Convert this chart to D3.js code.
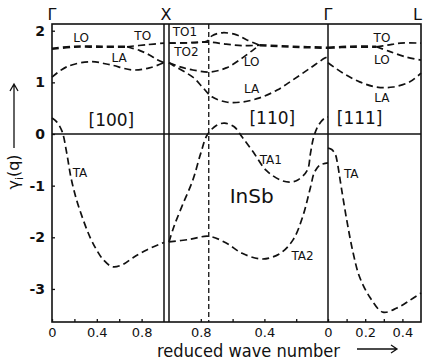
<!DOCTYPE html>
<html>
<head>
<meta charset="utf-8">
<script src="https://cdn.jsdelivr.net/npm/d3@7"></script>
<style>
  body { margin: 0; background: #fff; }
  text { font-family: "DejaVu Sans", sans-serif; fill: #111; }
</style>
</head>
<body>
<script>
// Grüneisen parameters gamma_i(q) of InSb
// [q, gamma] pairs, q = reduced wave number in each direction

// [100]  Gamma -> X   (LO and TO coincide up to q ~ 0.67)
const shared100 = [[0, 1.65], [0.2, 1.69], [0.45, 1.69], [0.67, 1.69]];
const lo100 = [[0.67, 1.69], [0.78, 1.62], [0.87, 1.53], [0.94, 1.44], [1, 1.38]];
const to100 = [[0.67, 1.69], [0.85, 1.73], [1, 1.76]];
const la100 = [[0, 1.10], [0.13, 1.30], [0.34, 1.40], [0.52, 1.34], [0.72, 1.24], [0.87, 1.28], [1, 1.38]];
const ta100 = [[0, 0.31], [0.04, 0.24], [0.09, 0.05], [0.13, -0.35], [0.17, -0.85], [0.22, -1.28], [0.28, -1.67],
               [0.34, -2.0], [0.40, -2.25], [0.46, -2.44], [0.54, -2.57], [0.63, -2.53], [0.72, -2.40], [0.85, -2.24], [1, -2.10]];

// [110]  X -> K -> Gamma (q runs from 1 down to 0); TO1, TO2, LO coincide below q ~ 0.43
const to1_110 = [[1, 1.76], [0.85, 1.77], [0.76, 1.80], [0.73, 1.90], [0.665, 1.96], [0.575, 1.92], [0.51, 1.82], [0.43, 1.72]];
const to2_110 = [[1, 1.76], [0.85, 1.77], [0.75, 1.78], [0.64, 1.74], [0.54, 1.71], [0.43, 1.72]];
const lo110 = [[1, 1.38], [0.93, 1.30], [0.85, 1.24], [0.745, 1.20], [0.64, 1.28], [0.54, 1.47], [0.47, 1.63], [0.43, 1.72]];
const shared110 = [[0.43, 1.72], [0.22, 1.69], [0, 1.67]];
const la110 = [[1, 1.38], [0.98, 1.34], [0.85, 1.10], [0.79, 0.91], [0.73, 0.72], [0.64, 0.62], [0.54, 0.62], [0.43, 0.70],
               [0.32, 0.85], [0.22, 1.05], [0.11, 1.28], [0.02, 1.47], [0, 1.50]];
const ta1_110 = [[1, -2.09], [0.97, -1.80], [0.92, -1.41], [0.85, -0.89], [0.80, -0.37], [0.76, -0.02], [0.70, 0.17], [0.65, 0.21],
                 [0.59, 0.14], [0.54, -0.06], [0.47, -0.35], [0.39, -0.70], [0.30, -0.89], [0.24, -0.93], [0.19, -0.89],
                 [0.13, -0.70], [0.11, -0.37], [0.09, -0.06], [0.06, 0.17], [0.02, 0.31], [0, 0.33]];
const ta2_110 = [[1, -2.09], [0.87, -2.04], [0.75, -1.98], [0.64, -2.11], [0.54, -2.31], [0.41, -2.42], [0.30, -2.31],
                 [0.22, -2.05], [0.16, -1.61], [0.11, -1.03], [0.085, -0.74], [0.05, -0.60], [0, -0.56]];

// [111]  Gamma -> L   (LO and TO coincide up to q ~ 0.26)
const shared111 = [[0, 1.67], [0.12, 1.69], [0.26, 1.69]];
const to111 = [[0.26, 1.69], [0.32, 1.72], [0.39, 1.76], [0.5, 1.76]];
const lo111 = [[0.26, 1.69], [0.33, 1.60], [0.42, 1.49], [0.5, 1.43]];
const la111 = [[0, 1.38], [0.08, 1.18], [0.17, 1.01], [0.26, 0.91], [0.35, 0.91], [0.44, 1.01], [0.5, 1.18]];
const ta111 = [[0, -0.27], [0.02, -0.30], [0.04, -0.40], [0.05, -0.55], [0.07, -1.0], [0.10, -1.65], [0.135, -2.30],
               [0.17, -2.77], [0.225, -3.16], [0.295, -3.45], [0.37, -3.37], [0.44, -3.22], [0.5, -3.08]];

const kPoint = 0.75;
const yTicks = [-3, -2, -1, 0, 1, 2];
const ticks100 = [0.2, 0.4, 0.6, 0.8], labels100 = [0, 0.4, 0.8];
const ticks110 = [0.2, 0.4, 0.6, 0.8], labels110 = [0.8, 0.4, 0];
const ticks111 = [0.1, 0.2, 0.3, 0.4], labels111 = [0.2, 0.4];

const width = 423, height = 364;
const svg = d3.select("body").append("svg").attr("width", width).attr("height", height);

const y = d3.scaleLinear().domain([-3.64, 2.13]).range([322, 24]);
const x100 = d3.scaleLinear().domain([0, 1]).range([52, 164]);
const x110 = d3.scaleLinear().domain([1, 0]).range([169, 328]);
const x111 = d3.scaleLinear().domain([0, 0.5]).range([328, 421]);

// frame, zero line, zone boundaries
const ink = "#111";
svg.append("rect").attr("x", 52).attr("y", 24).attr("width", 369).attr("height", 298)
    .attr("fill", "none").attr("stroke", ink).attr("stroke-width", 1.6);
svg.append("line").attr("x1", 52).attr("x2", 421).attr("y1", y(0)).attr("y2", y(0))
    .attr("stroke", ink).attr("stroke-width", 1.3);
[x100(1), x110(1), x110(0)].forEach(px => {
  svg.append("line").attr("x1", px).attr("x2", px).attr("y1", 24).attr("y2", 322)
      .attr("stroke", ink).attr("stroke-width", 1.5);
});
svg.append("line").attr("x1", x110(kPoint)).attr("x2", x110(kPoint)).attr("y1", 24).attr("y2", 322)
    .attr("stroke", ink).attr("stroke-width", 1.3).attr("stroke-dasharray", "5,3");

// axes
const fmt = labels => d => labels.includes(d) ? d3.format("")(d) : "";
const bottom = (scale, ticks, labels) => svg.append("g")
    .attr("transform", `translate(0,322)`)
    .call(d3.axisBottom(scale).tickValues([...new Set([...ticks, ...labels])])
        .tickSizeInner(-3).tickSizeOuter(0).tickPadding(6).tickFormat(fmt(labels)))
    .call(g => g.select(".domain").remove())
    .call(g => g.selectAll(".tick line").attr("stroke", ink).attr("stroke-width", 1.3))
    .call(g => g.selectAll("text").attr("font-size", 13).attr("font-family", "DejaVu Sans").attr("fill", ink));
bottom(x100, ticks100, labels100);
bottom(x110, ticks110, labels110);
bottom(x111, ticks111, labels111);

svg.append("g")
    .attr("transform", "translate(52,0)")
    .call(d3.axisLeft(y).tickValues(yTicks).tickSizeInner(-3).tickSizeOuter(0).tickPadding(7)
        .tickFormat(d => d < 0 ? "-" + Math.abs(d) : d))
    .call(g => g.select(".domain").remove())
    .call(g => g.selectAll(".tick line").attr("stroke", ink).attr("stroke-width", 1.3))
    .call(g => g.selectAll("text").attr("font-size", 14).attr("font-weight", "bold")
        .attr("font-family", "DejaVu Sans").attr("fill", ink));

// curves; shared (degenerate) stretches are drawn heavier, as in the print
const curves = [
  [x100, shared100, 2.6], [x100, lo100, 1.7], [x100, to100, 1.7], [x100, la100, 1.7], [x100, ta100, 1.7],
  [x110, to1_110, 1.7], [x110, to2_110, 1.7], [x110, lo110, 1.7], [x110, shared110, 2.6],
  [x110, la110, 1.7], [x110, ta1_110, 1.7], [x110, ta2_110, 1.7],
  [x111, shared111, 2.6], [x111, to111, 1.7], [x111, lo111, 1.7], [x111, la111, 1.7], [x111, ta111, 1.7]
];
curves.forEach(([xs, pts, w]) => {
  svg.append("path")
      .datum(pts)
      .attr("fill", "none")
      .attr("stroke", ink)
      .attr("stroke-width", w)
      .attr("stroke-dasharray", "7,4")
      .attr("d", d3.line().x(d => xs(d[0])).y(d => y(d[1])).curve(d3.curveCatmullRom.alpha(0.5)));
});

// labels
const labels = [
  ["LO", x100, 0.26, 1.86, 12], ["TO", x100, 0.81, 1.90, 12], ["LA", x100, 0.60, 1.47, 12], ["TA", x100, 0.25, -0.755, 12],
  ["[100]", x100, 0.53, 0.27, 17],
  ["TO1", x110, 0.90, 1.97, 12], ["TO2", x110, 0.89, 1.59, 12], ["LO", x110, 0.48, 1.39, 12], ["LA", x110, 0.48, 0.87, 12],
  ["[110]", x110, 0.35, 0.31, 17], ["TA1", x110, 0.36, -0.50, 12], ["TA2", x110, 0.16, -2.36, 12],
  ["InSb", x110, 0.48, -1.20, 20],
  ["TO", x111, 0.29, 1.86, 12], ["LO", x111, 0.29, 1.43, 12], ["LA", x111, 0.29, 0.70, 12], ["TA", x111, 0.125, -0.77, 12],
  ["[111]", x111, 0.17, 0.31, 17]
];
labels.forEach(([t, xs, q, g, fs]) => {
  svg.append("text").attr("x", xs(q)).attr("y", y(g))
      .attr("text-anchor", "middle").attr("dominant-baseline", "central")
      .attr("font-size", fs).text(t);
});

// symmetry points
[["Γ", x100(0), "middle"], ["X", 166, "middle"], ["Γ", x110(0), "middle"], ["L", 413, "start"]].forEach(([t, px, a]) => {
  svg.append("text").attr("x", px).attr("y", 14).attr("text-anchor", a)
      .attr("dominant-baseline", "central").attr("font-size", 16).text(t);
});

// axis titles
const yl = svg.append("text").attr("transform", "translate(19,172) rotate(-90)")
    .attr("text-anchor", "middle").attr("font-size", 16);
yl.append("tspan").text("γ");
yl.append("tspan").attr("font-size", 11).attr("dy", 4).text("i");
yl.append("tspan").attr("dy", -4).text("(q)");
svg.append("path").attr("d", "M14,148V84M10,91L14,84L18,91")
    .attr("fill", "none").attr("stroke", ink).attr("stroke-width", 1.3);

svg.append("text").attr("x", 157).attr("y", 357).attr("font-size", 18)
    .attr("textLength", 183).attr("lengthAdjust", "spacingAndGlyphs").text("reduced wave number");
svg.append("path").attr("d", "M357,349H397M391,345L397,349L391,353")
    .attr("fill", "none").attr("stroke", ink).attr("stroke-width", 1.3);
</script>
</body>
</html>
